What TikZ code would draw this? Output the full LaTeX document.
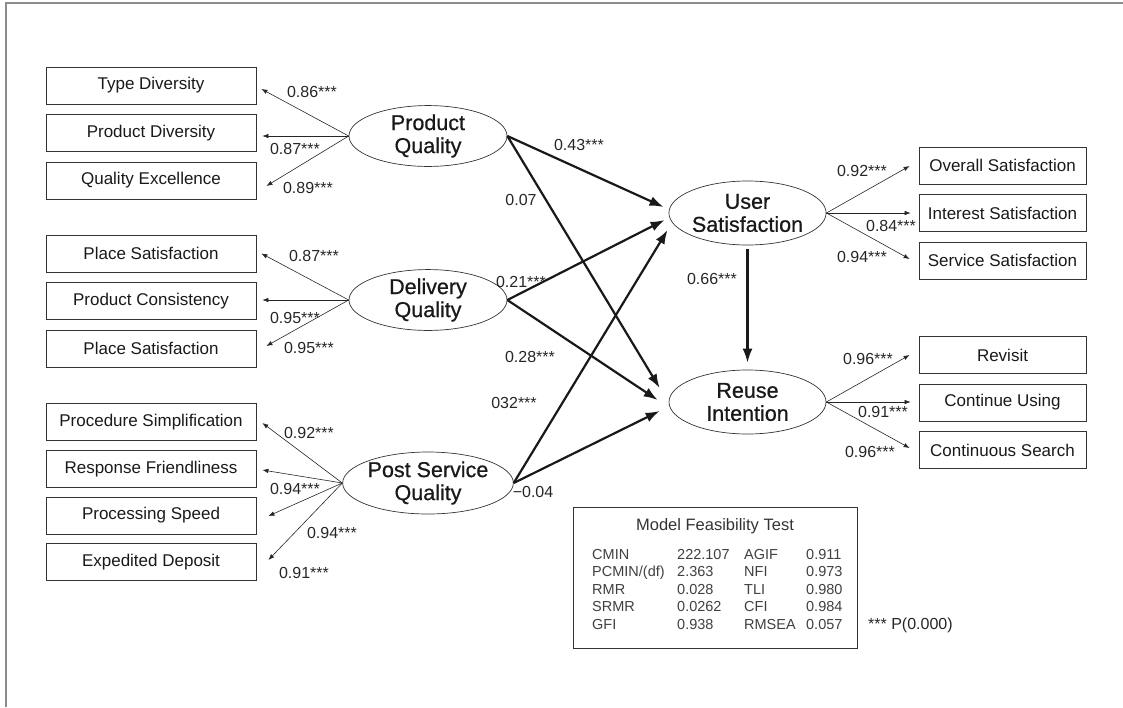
\documentclass[tikz,border=0pt]{standalone}
\usepackage{fontspec}
\setmainfont{Liberation Sans}
\newfontfamily\latentfont[FakeBold=0.7]{Liberation Sans}
\usetikzlibrary{shapes.geometric,arrows.meta,calc}

\begin{document}
\begin{tikzpicture}[x=1pt,y=-1pt,
  ind/.style={draw=black!80, line width=0.8pt, minimum width=210pt, minimum height=37pt,
    inner sep=0pt, font=\fontsize{17}{20}\selectfont, text=black!90},
  rind/.style={ind, minimum width=167pt},
  lat/.style={draw=black!80, line width=0.7pt, ellipse, minimum width=158pt, minimum height=56pt,
    inner sep=0pt, align=center, font=\latentfont\fontsize{21.5}{23}\selectfont, text=black!90},
  loadarrow/.style={-{Latex[length=6pt,width=4.5pt]}, line width=0.6pt, black!85},
  effect/.style={-{Latex[length=14pt,width=10pt]}, line width=2.2pt, black!90},
  coef/.style={inner sep=0pt, font=\fontsize{16}{18}\selectfont, text=black!85},
]
\useasboundingbox (0,0) rectangle (1123,707);

% outer frame (top and left edges only)
\draw[black!45, line width=2pt] (6,707) -- (6,3) -- (1123,3);

% ---------- indicator boxes, left ----------
\node[ind] (td) at (151,85.5) {Type Diversity};
\node[ind] (pd) at (151,133) {Product Diversity};
\node[ind] (qe) at (151,180.5) {Quality Excellence};
\node[ind] (ps1) at (151,253.5) {Place Satisfaction};
\node[ind] (pc) at (151,301) {Product Consistency};
\node[ind] (ps2) at (151,348.5) {Place Satisfaction};
\node[ind] (prs) at (151,422) {Procedure Simplification};
\node[ind] (rf) at (151,469) {Response Friendliness};
\node[ind] (psp) at (151,515.5) {Processing Speed};
\node[ind] (ed) at (151,562) {Expedited Deposit};

% ---------- indicator boxes, right ----------
\node[rind] (os) at (1002.5,165.5) {Overall Satisfaction};
\node[rind] (is) at (1002.5,213) {Interest Satisfaction};
\node[rind] (ss) at (1002.5,260.5) {Service Satisfaction};
\node[rind] (rv) at (1002.5,355) {Revisit};
\node[rind] (cu) at (1002.5,402.5) {Continue Using};
\node[rind] (cs) at (1002.5,450) {Continuous Search};

% ---------- latent variables ----------
\node[lat, minimum height=54pt] (pq) at (428,136) {Product\\Quality};
\node[lat] (dq) at (428,300) {Delivery\\Quality};
\node[lat, minimum height=62pt] (psq) at (428,483) {Post Service\\Quality};
\node[lat, minimum width=157pt, minimum height=64pt] (us) at (747.5,213) {User\\Satisfaction};
\node[lat, minimum width=157pt, minimum height=64pt] (ri) at (747.5,402) {Reuse\\Intention};

% ---------- measurement paths ----------
\draw[loadarrow] (pq.west) -- ($(td.east)+(5,3.5)$);
\draw[loadarrow] (pq.west) -- ($(pd.east)+(6,3)$);
\draw[loadarrow] (pq.west) -- ($(qe.east)+(10,5.5)$);
\draw[loadarrow] (dq.west) -- ($(ps1.east)+(5,0)$);
\draw[loadarrow] (dq.west) -- ($(pc.east)+(6,-1)$);
\draw[loadarrow] (dq.west) -- ($(ps2.east)+(10,-2.5)$);
\draw[loadarrow] (psq.west) -- ($(prs.east)+(6,1)$);
\draw[loadarrow] (psq.west) -- ($(rf.east)+(6,1)$);
\draw[loadarrow] (psq.west) -- ($(psp.east)+(12,0.5)$);
\draw[loadarrow] (psq.west) -- ($(ed.east)+(12,-2)$);

\draw[loadarrow] (us.east) -- ($(os.west)+(-9,0.5)$);
\draw[loadarrow] (us.east) -- ($(is.west)+(-8,0)$);
\draw[loadarrow] (us.east) -- ($(ss.west)+(-9,-1.5)$);
\draw[loadarrow] (ri.east) -- ($(rv.west)+(-9,0)$);
\draw[loadarrow] (ri.east) -- ($(cu.west)+(-8,-0.5)$);
\draw[loadarrow] (ri.east) -- ($(cs.west)+(-9,-2)$);

% ---------- structural paths ----------
\draw[effect] (pq.east) -- ($(us.west)+(-5,-6)$);
\draw[effect] (pq.east) -- ($(ri.west)+(-9,-14)$);
\draw[effect] (dq.east) -- ($(us.west)+(-4,7)$);
\draw[effect] (dq.east) -- ($(ri.west)+(-11,-2)$);
\draw[effect] (psq.east) -- ($(us.west)+(-1,17)$);
\draw[effect] (psq.east) -- ($(ri.west)+(-9,9)$);
\draw[effect] ($(us.south)+(0,4)$) -- ($(ri.north)+(0,-7)$);

% ---------- loadings ----------
\node[coef] (l1) at (312,92) {0.86***};
\node[coef] (l2) at (295,149) {0.87***};
\node[coef] (l3) at (308,188) {0.89***};
\node[coef] (l4) at (314,256) {0.87***};
\node[coef] (l5) at (295,318) {0.95***};
\node[coef] (l6) at (309,348) {0.95***};
\node[coef] (l7) at (309,433) {0.92***};
\node[coef] (l8) at (295,489) {0.94***};
\node[coef] (l9) at (332,533) {0.94***};
\node[coef] (l10) at (304,573) {0.91***};
\node[coef] (r1) at (862,171) {0.92***};
\node[coef] (r2) at (891,226) {0.84***};
\node[coef] (r3) at (862,257) {0.94***};
\node[coef] (r4) at (868,359) {0.96***};
\node[coef] (r5) at (883,412) {0.91***};
\node[coef] (r6) at (870,452) {0.96***};

% ---------- path coefficients ----------
\node[coef] (b1) at (579,145) {0.43***};
\node[coef] (b2) at (521,200) {0.07};
\node[coef] (b3) at (521,282) {0.21***};
\node[coef] (b4) at (530,357) {0.28***};
\node[coef] (b5) at (514,403) {032***};
\node[coef] (b6) at (533,492) {−0.04};
\node[coef] (b7) at (712,279) {0.66***};

% ---------- fit indices ----------
\node[draw=black!80, line width=0.8pt, minimum width=284pt, minimum height=141pt, inner sep=0pt]
  (fitbox) at (715,577.5) {};
\node[inner sep=0pt, font=\fontsize{16.5}{19}\selectfont, text=black!80] (fittitle) at (715,526)
  {Model Feasibility Test};
\node[anchor=base west, inner sep=0pt, font=\fontsize{14.5}{17.5}\selectfont, text=black!75] (fitrows)
  at (592,559) {%
  \begin{tabular}[t]{@{}p{85pt}@{}p{67pt}@{}p{62pt}@{}l@{}}
  CMIN & 222.107 & AGIF & 0.911\\
  PCMIN/(df) & 2.363 & NFI & 0.973\\
  RMR & 0.028 & TLI & 0.980\\
  SRMR & 0.0262 & CFI & 0.984\\
  GFI & 0.938 & RMSEA & 0.057
  \end{tabular}};
\node[anchor=base west, inner sep=0pt, font=\fontsize{16}{18}\selectfont, text=black!85] (sig)
  at (868,629) {*** P(0.000)};
\end{tikzpicture}
\end{document}
